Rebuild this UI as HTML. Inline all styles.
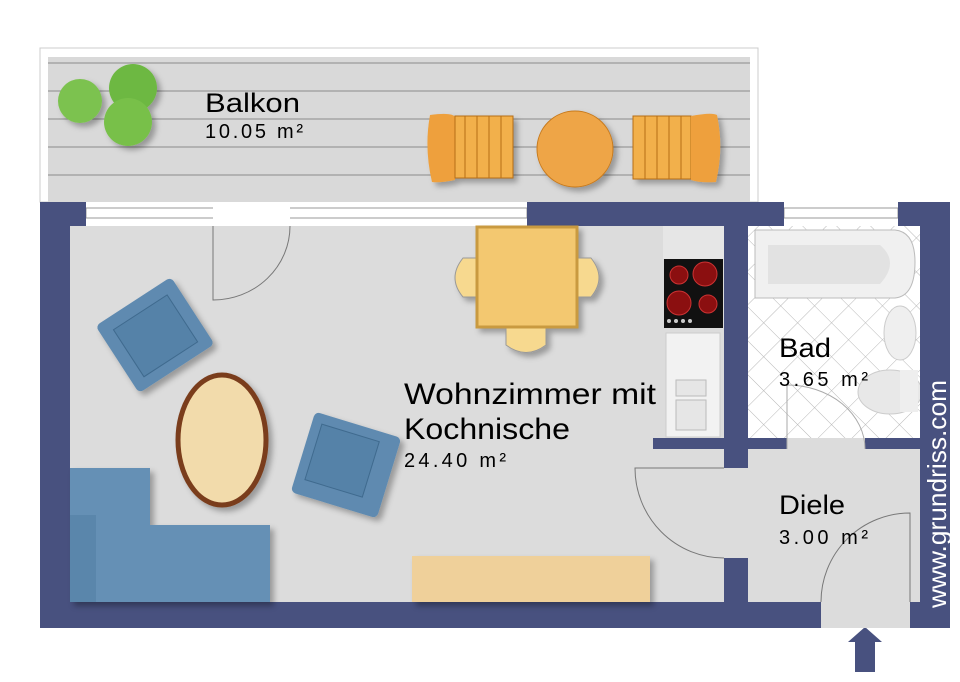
<!DOCTYPE html>
<html><head><meta charset="utf-8"><style>
html,body{margin:0;padding:0;background:#fff;width:960px;height:682px;overflow:hidden}
text{font-family:"Liberation Sans",sans-serif;fill:#000}
</style></head><body>
<svg width="960" height="682" viewBox="0 0 960 682" xmlns="http://www.w3.org/2000/svg">
<defs>
<pattern id="tile" width="24" height="24" patternUnits="userSpaceOnUse" patternTransform="rotate(45)">
<rect width="24" height="24" fill="#fff"/><path d="M0 0H24M0 0V24" stroke="#b8b8b8" stroke-width="1"/>
</pattern>
<filter id="sh" x="-20%" y="-20%" width="150%" height="150%"><feDropShadow dx="4" dy="4" stdDeviation="3" flood-color="#000" flood-opacity="0.3"/></filter>
</defs>
<rect x="40" y="48" width="718" height="154" fill="#fff" stroke="#ccc"/>
<rect x="48" y="57" width="702" height="145" fill="#d9d9d9"/>
<g stroke="#9a9a9a" stroke-width="1.2">
<line x1="48" y1="63" x2="750" y2="63"/><line x1="48" y1="91" x2="750" y2="91"/>
<line x1="48" y1="119" x2="750" y2="119"/><line x1="48" y1="147" x2="750" y2="147"/>
<line x1="48" y1="175" x2="750" y2="175"/>
</g>
<g filter="url(#sh)">
<circle cx="80" cy="101" r="22" fill="#7cc250"/><circle cx="133" cy="88" r="24" fill="#6db843"/><circle cx="128" cy="122" r="24" fill="#78c04a"/>
</g>
<g filter="url(#sh)">
<path d="M430 115 Q452 112 455 117 L455 180 Q440 183 432 182 Q424 148 430 115Z" fill="#eea03c"/>
<rect x="455" y="116" width="58" height="62" fill="#f2b04c" stroke="#b76e16"/>
<g stroke="#b76e16"><line x1="465" y1="116" x2="465" y2="178"/><line x1="477" y1="116" x2="477" y2="178"/><line x1="489" y1="116" x2="489" y2="178"/><line x1="501" y1="116" x2="501" y2="178"/></g>
<circle cx="575" cy="149" r="38" fill="#eea547" stroke="#c77a1e"/>
<rect x="633" y="116" width="58" height="63" fill="#f2b04c" stroke="#b76e16"/>
<g stroke="#b76e16"><line x1="645" y1="116" x2="645" y2="179"/><line x1="657" y1="116" x2="657" y2="179"/><line x1="669" y1="116" x2="669" y2="179"/><line x1="681" y1="116" x2="681" y2="179"/></g>
<path d="M691 116 Q712 112 717 115 Q724 148 716 182 Q700 183 691 180Z" fill="#eea03c"/>
</g>
<text x="205" y="112" font-size="27" textLength="95" lengthAdjust="spacingAndGlyphs">Balkon</text>
<text x="205" y="138" font-size="20" textLength="98" lengthAdjust="spacing">10.05 m²</text>
<rect x="70" y="226" width="850" height="376" fill="#dcdcdc"/>
<rect x="86" y="202" width="441" height="24" fill="#fff"/>
<g stroke="#999" fill="none"><rect x="86" y="208" width="441" height="10"/></g>
<rect x="213" y="202" width="77" height="24" fill="#fff"/>
<rect x="784" y="202" width="114" height="24" fill="#fff"/>
<rect x="784" y="208" width="114" height="10" fill="none" stroke="#999"/>
<rect x="748" y="226" width="172" height="212" fill="url(#tile)"/>
<path d="M755 230 H895 Q915 232 915 262 Q915 296 895 298 H755Z" fill="#f0f0f0" stroke="#bbb"/>
<path d="M768 245 H880 Q900 262 880 284 H768Z" fill="#e2e2e2"/>
<ellipse cx="900" cy="333" rx="16" ry="27" fill="#efefef" stroke="#ccc"/>
<ellipse cx="890" cy="392" rx="32" ry="22" fill="#e8e8e8" stroke="#ccc"/>
<rect x="900" y="370" width="18" height="42" fill="#eee"/>
<rect x="663" y="226" width="61" height="33" fill="#e6e6e6"/>
<rect x="664" y="259" width="59" height="69" fill="#111"/>
<circle cx="679" cy="275" r="9" fill="#8b0f10" stroke="#c33"/><circle cx="705" cy="274" r="12" fill="#8b0f10" stroke="#c33"/>
<circle cx="679" cy="303" r="12" fill="#8b0f10" stroke="#c33"/><circle cx="708" cy="304" r="9" fill="#8b0f10" stroke="#c33"/>
<g fill="#ccc"><circle cx="669" cy="321" r="2"/><circle cx="676" cy="321" r="2"/><circle cx="683" cy="321" r="2"/><circle cx="690" cy="321" r="2"/></g>
<rect x="666" y="333" width="54" height="104" fill="#f2f2f2" stroke="#ccc"/>
<rect x="676" y="380" width="30" height="16" fill="#e6e6e6" stroke="#bbb"/>
<rect x="676" y="400" width="30" height="30" fill="#e6e6e6" stroke="#bbb"/>
<g fill="#48517f">
<rect x="40" y="202" width="30" height="426"/>
<rect x="40" y="202" width="46" height="24"/>
<rect x="527" y="202" width="257" height="24"/>
<rect x="898" y="202" width="52" height="24"/>
<rect x="920" y="202" width="30" height="426"/>
<rect x="40" y="602" width="781" height="26"/>
<rect x="910" y="602" width="40" height="26"/>
<rect x="724" y="226" width="24" height="242"/>
<rect x="653" y="438" width="134" height="11"/>
<rect x="865" y="438" width="55" height="11"/>
<rect x="724" y="558" width="24" height="44"/>
<path d="M855 672 V642 H848 L865 627 L882 642 H875 V672Z"/>
</g>
<rect x="821" y="602" width="89" height="26" fill="#dcdcdc"/>
<g fill="none" stroke="#777" stroke-width="1">
<path d="M213 226 V300 A77 74 0 0 0 290 226"/>
<path d="M724 468 H635 A89 90 0 0 0 724 558"/>
<path d="M910 602 V513 A89 89 0 0 0 821 602"/>
<path d="M787 449 V385 A78 64 0 0 1 865 449" stroke="#aaa"/>
</g>
<g filter="url(#sh)">
<path d="M463 258 H477 V297 H463 Q447 278 463 258Z" fill="#f7d98f" stroke="#999"/>
<path d="M591 258 H578 V297 H591 Q607 278 591 258Z" fill="#f7d98f" stroke="#999"/>
<path d="M506 327 H546 V345 Q526 360 506 345Z" fill="#f7d98f" stroke="#999"/>
<rect x="477" y="227" width="100" height="100" fill="#f3c870" stroke="#c99a40" stroke-width="3"/>
</g>
<g filter="url(#sh)">
<g transform="translate(155 335) rotate(-33)"><rect x="-45" y="-40" width="90" height="80" rx="5" fill="#5e8ab0"/><rect x="-32" y="-27" width="64" height="56" fill="#5582a8" stroke="#3f6a8e"/></g>
<g transform="translate(346 465) rotate(17)"><rect x="-45" y="-42" width="90" height="84" rx="5" fill="#5e8ab0"/><rect x="-35" y="-32" width="60" height="58" fill="#5582a8" stroke="#3f6a8e"/></g>
<ellipse cx="222" cy="440" rx="44" ry="65" fill="#f2dbab" stroke="#7a3e1c" stroke-width="5"/>
<rect x="70" y="468" width="80" height="134" fill="#6590b5"/>
<rect x="149" y="525" width="121" height="77" fill="#6590b5"/>
<rect x="70" y="515" width="26" height="87" fill="#5a86ab"/>
<rect x="412" y="556" width="238" height="46" fill="#efd09a"/>
</g>
<text x="404" y="404" font-size="30" textLength="252" lengthAdjust="spacingAndGlyphs">Wohnzimmer mit</text>
<text x="404" y="439" font-size="30" textLength="166" lengthAdjust="spacingAndGlyphs">Kochnische</text>
<text x="404" y="467" font-size="20" textLength="102" lengthAdjust="spacing">24.40 m²</text>
<text x="779" y="357" font-size="27" textLength="52" lengthAdjust="spacingAndGlyphs">Bad</text>
<text x="779" y="386" font-size="20" textLength="89" lengthAdjust="spacing">3.65 m²</text>
<text x="779" y="514" font-size="27" textLength="66" lengthAdjust="spacingAndGlyphs">Diele</text>
<text x="779" y="544" font-size="20" textLength="89" lengthAdjust="spacing">3.00 m²</text>
<text transform="translate(946 608) rotate(-90)" font-size="26" textLength="228" lengthAdjust="spacingAndGlyphs" style="fill:#fff">www.grundriss.com</text>
</svg>
</body></html>
